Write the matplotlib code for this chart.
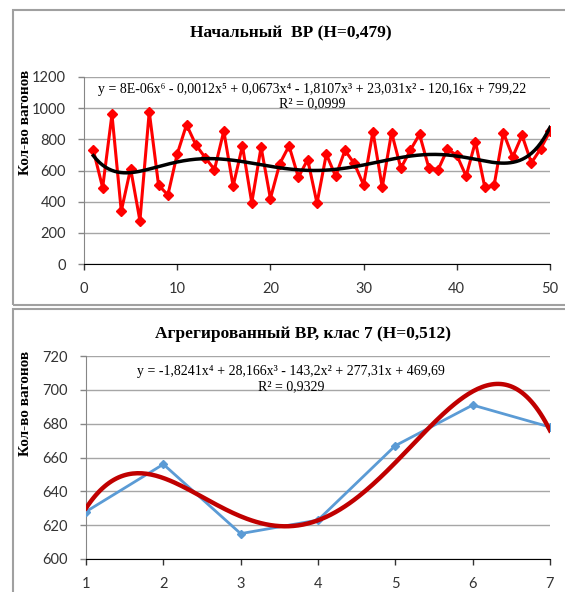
import numpy as np
import matplotlib.pyplot as plt
from matplotlib.patches import Rectangle

# data
x_top = np.arange(1, 51)
y_top = [730, 490, 960, 340, 612, 278, 977, 506, 443, 705,
         894, 765, 683, 606, 853, 500, 758, 393, 750, 420,
         643, 758, 557, 670, 390, 705, 563, 729, 645, 508,
         850, 492, 843, 615, 729, 832, 617, 606, 737, 698,
         564, 785, 494, 504, 843, 687, 826, 649, 740, 853]

x_bot = np.arange(1, 8)
y_bot = [628, 656, 615, 623, 667, 691, 678]

title_top = "Начальный  ВР (Н=0,479)"
title_bot = "Агрегированный ВР, клас 7 (Н=0,512)"
ylabel = "Кол-во вагонов"
eq_top = "y = 8E-06x⁶ - 0,0012x⁵ + 0,0673x⁴ - 1,8107x³ + 23,031x² - 120,16x + 799,22"
r2_top = "R² = 0,0999"
eq_bot = "y = -1,8241x⁴ + 28,166x³ - 143,2x² + 277,31x + 469,69"
r2_bot = "R² = 0,9329"

W, H = 565, 592
SERIF = ['Liberation Serif', 'DejaVu Serif']
TICKFONT = ['Lato', 'DejaVu Sans']
GRID = '#a6a6a6'


def fx(px):
    return px / W


def fy(py):
    return 1 - py / H


fig = plt.figure(figsize=(W / 100, H / 100), dpi=100)

# chart frames
fig.add_artist(Rectangle((fx(13), fy(305)), 1.1, fy(10) - fy(305), transform=fig.transFigure,
                         fill=False, ec='#a0a0a0', lw=1.5))
fig.add_artist(Rectangle((fx(13), -0.1), 1.1, fy(309) + 0.1, transform=fig.transFigure,
                         fill=False, ec='#a0a0a0', lw=1.5))


def style_axes(ax):
    for s in ['top', 'right']:
        ax.spines[s].set_visible(False)
    ax.spines['left'].set_color('#868686')
    ax.spines['bottom'].set_color('black')
    ax.grid(axis='y', color=GRID, lw=1)
    ax.set_axisbelow(True)
    ax.tick_params(axis='both', direction='out', length=4, width=1, pad=9,
                   labelsize=10.5, colors='#333333')
    ax.tick_params(axis='y', color='#868686')
    for lab in ax.get_xticklabels() + ax.get_yticklabels():
        lab.set_family(TICKFONT)


# top chart
ax1 = fig.add_axes([fx(84), fy(264), fx(550) - fx(84), fy(77) - fy(264)])
ax1.plot(x_top, y_top, color='#ff0000', lw=2.2, marker='D', ms=5, zorder=3)
xs = np.linspace(1, 50, 300)
ax1.plot(xs, np.polyval(np.polyfit(x_top, y_top, 6), xs), color='black', lw=2.5, zorder=4)
ax1.set_xlim(0, 50)
ax1.set_ylim(0, 1200)
ax1.set_xticks(range(0, 51, 10))
ax1.set_yticks(range(0, 1201, 200))
style_axes(ax1)

fig.text(fx(291), fy(33), title_top, ha='center', va='center', fontsize=12.5,
         fontweight='bold', family=SERIF)
fig.text(fx(312), fy(89), eq_top, ha='center', va='center', fontsize=10, family=SERIF)
fig.text(fx(312), fy(104), r2_top, ha='center', va='center', fontsize=10, family=SERIF)
fig.text(fx(26), fy(122), ylabel, ha='center', va='center', rotation=90, fontsize=11,
         fontweight='bold', family=SERIF)

# bottom chart
ax2 = fig.add_axes([fx(86), fy(559), fx(550) - fx(86), fy(356) - fy(559)])
ax2.plot(x_bot, y_bot, color='#5b9bd5', lw=2, marker='D', ms=4, zorder=3)
xs2 = np.linspace(1, 7, 200)
ax2.plot(xs2, np.polyval(np.polyfit(x_bot, y_bot, 4), xs2), color='#c00000', lw=3.2, zorder=4)
ax2.set_xlim(1, 7)
ax2.set_ylim(600, 720)
ax2.set_xticks(range(1, 8))
ax2.set_yticks(range(600, 721, 20))
style_axes(ax2)

fig.text(fx(303), fy(334), title_bot, ha='center', va='center', fontsize=12.5,
         fontweight='bold', family=SERIF)
fig.text(fx(291), fy(372), eq_bot, ha='center', va='center', fontsize=10, family=SERIF)
fig.text(fx(291), fy(387), r2_bot, ha='center', va='center', fontsize=10, family=SERIF)
fig.text(fx(26), fy(403), ylabel, ha='center', va='center', rotation=90, fontsize=11,
         fontweight='bold', family=SERIF)

fig.savefig('out.png', dpi=100)
